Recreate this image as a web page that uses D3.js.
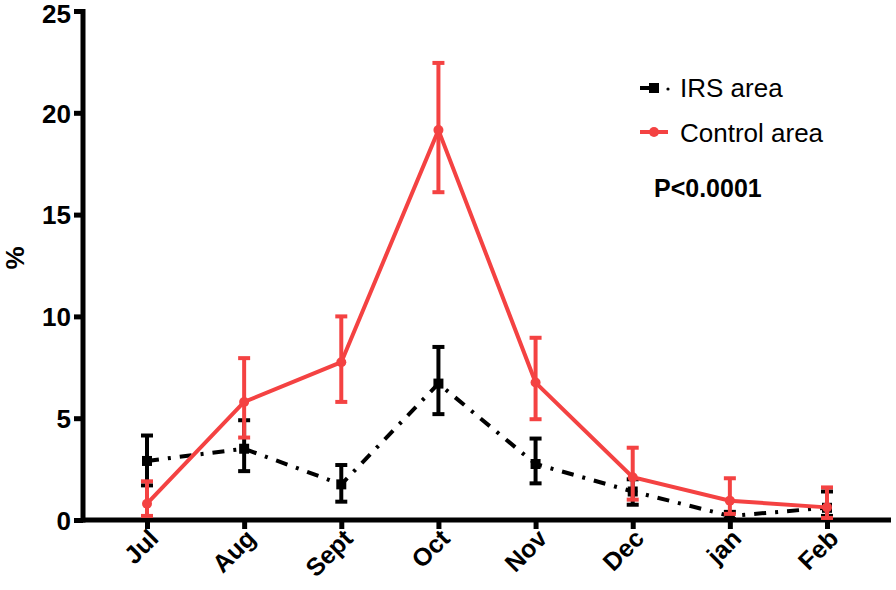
<!DOCTYPE html>
<html><head><meta charset="utf-8">
<script src="https://cdn.jsdelivr.net/npm/d3@7"></script>
<style>body{margin:0;background:#fff}svg{display:block}text{font-family:"Liberation Sans",Arial,sans-serif}</style>
</head><body>
<svg id="c" width="896" height="590"></svg>
<script>
const months = ["Jul","Aug","Sept","Oct","Nov","Dec","jan","Feb"];
const irsMean = [2.9, 3.5, 1.75, 6.7, 2.75, 1.4, 0.2, 0.6];
const irsLow  = [1.7, 2.4, 0.9, 5.2, 1.8, 0.75, 0.05, 0.2];
const irsHigh = [4.15, 4.9, 2.7, 8.5, 4.0, 2.0, 0.4, 1.4];
const ctlMean = [0.8, 5.8, 7.75, 19.15, 6.75, 2.1, 0.95, 0.62];
const ctlLow  = [0.2, 4.05, 5.8, 16.1, 4.95, 1.0, 0.3, 0.1];
const ctlHigh = [1.9, 7.95, 10.0, 22.45, 8.95, 3.55, 2.05, 1.6];
const yTicks = [0, 5, 10, 15, 20, 25];
const seriesNames = ["IRS area", "Control area"];
const RED = "#f44242";

const svg = d3.select("#c");
const x = d3.scalePoint().domain(months).range([147, 827]);
const y = d3.scaleLinear().domain([0, 25]).range([520, 11]);

// axes
const yAx = svg.append("g").attr("transform","translate(83,0)")
  .call(d3.axisLeft(y).tickValues(yTicks).tickSize(9).tickSizeOuter(0).tickPadding(3));
const xAx = svg.append("g").attr("transform","translate(0,520)")
  .call(d3.axisBottom(x).tickSize(9).tickSizeOuter(0).tickFormat(""));
[yAx, xAx].forEach(g => {
  g.selectAll("path.domain").remove();
  g.selectAll("line").attr("stroke","#000").attr("stroke-width",5);
});
yAx.selectAll("text").attr("font-size",26).attr("font-weight","bold").attr("fill","#000")
  .attr("dy", d => d === 25 ? "0.45em" : "0.36em");
svg.append("line").attr("x1",83).attr("x2",83).attr("y1",y(25)-2).attr("y2",y(0)+2.5).attr("stroke","#000").attr("stroke-width",5);
svg.append("line").attr("x1",81).attr("x2",891).attr("y1",y(0)).attr("y2",y(0)).attr("stroke","#000").attr("stroke-width",5);

// x labels
svg.append("g").selectAll("text").data(months).join("text")
  .attr("transform", d => `translate(${x(d)+13},${540}) rotate(-45)`)
  .attr("text-anchor","end").attr("font-size",25).attr("font-weight","bold").text(d => d);

svg.append("text").attr("transform","translate(24,258) rotate(-90)").attr("text-anchor","middle")
  .attr("font-size",26).attr("font-weight","bold").text("%");

function errBars(mean, lo, hi, color) {
  const g = svg.append("g");
  months.forEach((m,i) => {
    g.append("line").attr("x1",x(m)).attr("x2",x(m)).attr("y1",y(lo[i])).attr("y2",y(hi[i])).attr("stroke",color).attr("stroke-width",4);
    [lo[i],hi[i]].forEach(v => g.append("line").attr("x1",x(m)-6).attr("x2",x(m)+6).attr("y1",y(v)).attr("y2",y(v)).attr("stroke",color).attr("stroke-width",4));
  });
}
const line = d3.line().x((d,i)=>x(months[i])).y(d=>y(d));

// IRS
errBars(irsMean, irsLow, irsHigh, "#000");
svg.append("path").datum(irsMean).attr("d",line).attr("fill","none").attr("stroke","#000").attr("stroke-width",4)
  .attr("stroke-dasharray","12,9,3,9");
svg.append("g").selectAll("rect").data(irsMean).join("rect")
  .attr("x",(d,i)=>x(months[i])-5).attr("y",d=>y(d)-5).attr("width",10).attr("height",10).attr("fill","#000");

// Control
errBars(ctlMean, ctlLow, ctlHigh, RED);
svg.append("path").datum(ctlMean).attr("d",line).attr("fill","none").attr("stroke",RED).attr("stroke-width",4);
svg.append("g").selectAll("circle").data(ctlMean).join("circle")
  .attr("cx",(d,i)=>x(months[i])).attr("cy",d=>y(d)).attr("r",5).attr("fill",RED);

// legend
const lg = svg.append("g");
lg.append("line").attr("x1",640).attr("x2",657).attr("y1",88).attr("y2",88).attr("stroke","#000").attr("stroke-width",4);
lg.append("rect").attr("x",649).attr("y",83).attr("width",10).attr("height",10).attr("fill","#000");
lg.append("circle").attr("cx",668).attr("cy",89).attr("r",1.6).attr("fill","#000");
lg.append("line").attr("x1",640).attr("x2",668).attr("y1",132).attr("y2",132).attr("stroke",RED).attr("stroke-width",4);
lg.append("circle").attr("cx",654).attr("cy",132).attr("r",5).attr("fill",RED);
lg.selectAll("text.l").data(seriesNames).join("text").attr("class","l")
  .attr("x",680).attr("y",(d,i)=>88+i*45).attr("dy","0.36em").attr("font-size",26).text(d=>d);
svg.append("text").attr("x",654).attr("y",197).attr("font-size",25).attr("font-weight","bold").text("P<0.0001");
</script>
</body></html>
